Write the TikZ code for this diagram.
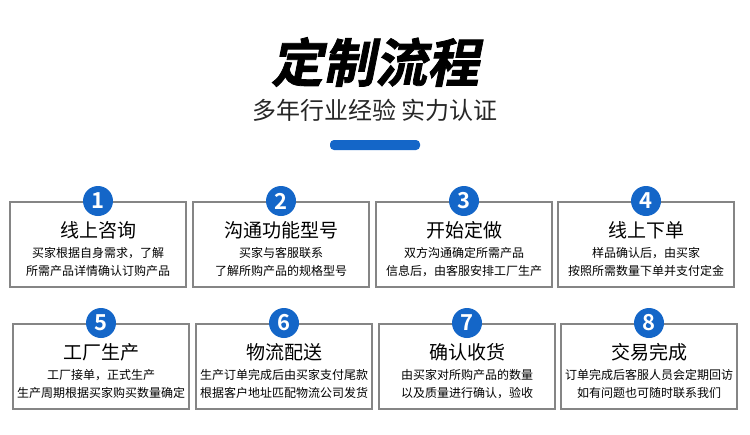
\documentclass[tikz,border=0pt]{standalone}
\usepackage{fontspec}
\setmainfont{Noto Sans CJK SC}
\newfontfamily\cjkbold[FakeSlant=0.2,FakeBold=1.5]{Noto Sans CJK SC Bold}
\newfontfamily\cjk{Noto Sans CJK SC}
\newfontfamily\numf{Noto Sans CJK SC Bold}
\definecolor{blu}{HTML}{1466C8}
\definecolor{gry}{HTML}{858585}
\begin{document}
\begin{tikzpicture}[x=1pt,y=-1pt,
 boxs/.style={draw=gry,line width=2.2pt,fill=white},
 numc/.style={circle,fill=blu,minimum size=30pt,inner sep=0pt,text=white,font=\numf\fontsize{22}{22}\selectfont},
 ttl/.style={font=\cjk\fontsize{19}{19}\selectfont,text=black},
 bdy/.style={font=\cjk\fontsize{12}{17.5}\selectfont,align=center,text=black}]
\useasboundingbox[fill=white] (0,0) rectangle (750,434);
\node[font=\cjkbold\fontsize{52}{52}\selectfont] (title) at (375,62) {定制流程};
\node[font=\cjk\fontsize{24}{24}\selectfont,text=black!85] (sub) at (375,110) {多年行业经验 实力认证};
\fill[blu,rounded corners=4pt] (330,140) rectangle (420,150);
\foreach \n/\x/\y/\t/\b in {
 1/10/202/线上咨询/{买家根据自身需求，了解\\所需产品详情确认订购产品},
 2/193/202/沟通功能型号/{买家与客服联系\\了解所购产品的规格型号},
 3/376/202/开始定做/{双方沟通确定所需产品\\信息后，由客服安排工厂生产},
 4/558/202/线上下单/{样品确认后，由买家\\按照所需数量下单并支付定金},
 5/13/324/工厂生产/{工厂接单，正式生产\\生产周期根据买家购买数量确定},
 6/196/324/物流配送/{生产订单完成后由买家支付尾款\\根据客户地址匹配物流公司发货},
 7/379/324/确认收货/{由买家对所购产品的数量\\以及质量进行确认，验收},
 8/561/324/交易完成/{订单完成后客服人员会定期回访\\如有问题也可随时联系我们}}{
 \draw[boxs] (\x,\y) rectangle ++(176,85);
 \node[numc] (c\n) at (\x+88,\y-1) {\n};
 \node[ttl] (t\n) at (\x+88,\y+28) {\t};
 \node[bdy] (b\n) at (\x+88,\y+60) {\b};
}
\end{tikzpicture}
\end{document}
